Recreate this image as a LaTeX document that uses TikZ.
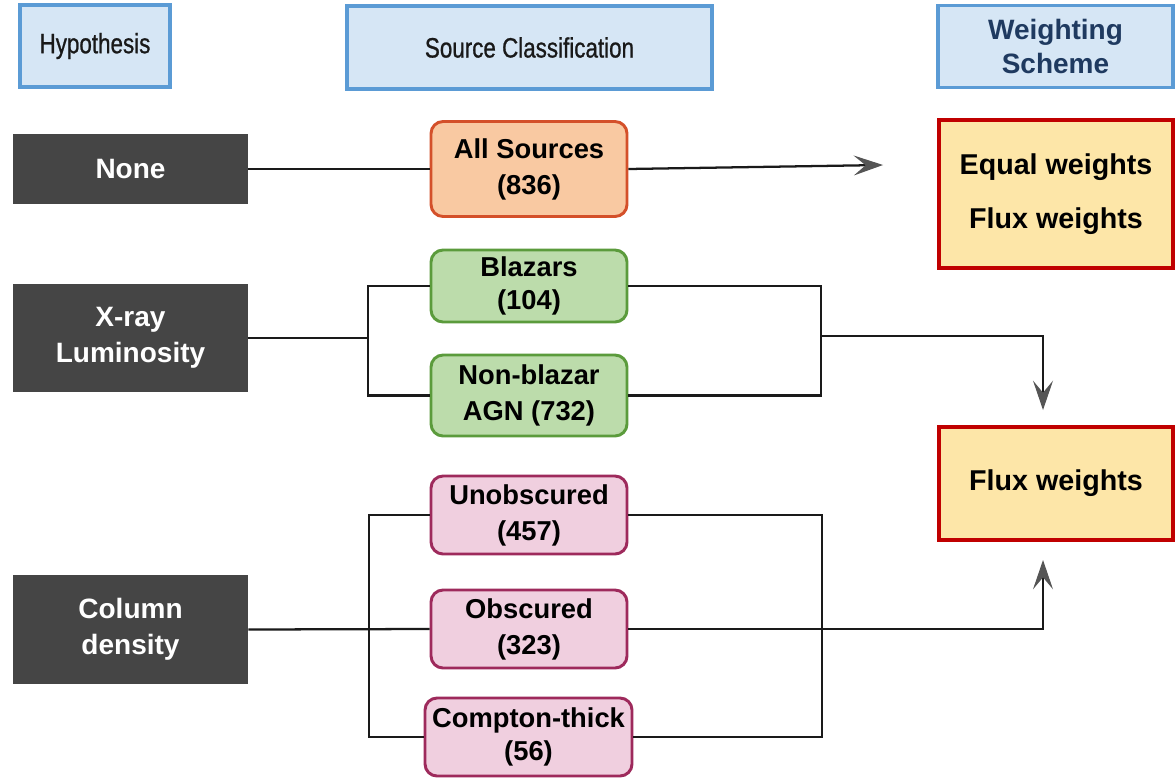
\documentclass[tikz,border=0pt]{standalone}
\usepackage{fontspec}
\setmainfont{Liberation Sans}
\newfontfamily\hdrfont[FakeStretch=0.8,FakeBold=0.8]{Liberation Sans}
\usetikzlibrary{arrows.meta}
\definecolor{hdrfill}{HTML}{D6E6F5}
\definecolor{hdrdraw}{HTML}{5B9BD5}
\definecolor{hdrtext}{HTML}{1F3A60}
\definecolor{darkbox}{HTML}{454545}
\definecolor{orfill}{HTML}{F9C9A2}
\definecolor{ordraw}{HTML}{D4502A}
\definecolor{grfill}{HTML}{BCDCAB}
\definecolor{grdraw}{HTML}{5B9B3C}
\definecolor{pkfill}{HTML}{F0CFDF}
\definecolor{pkdraw}{HTML}{9E2A5C}
\definecolor{ylfill}{HTML}{FDE6A8}
\definecolor{yldraw}{HTML}{C00000}
\definecolor{linec}{HTML}{1A1A1A}
\definecolor{tipc}{HTML}{555555}
\tikzset{
  hdr/.style={draw=hdrdraw, fill=hdrfill, line width=2.6pt, align=center, inner sep=0pt,
    font=\hdrfont\fontsize{21}{25}\selectfont, text=black!90},
  hypbox/.style={fill=darkbox, text=white, align=center, inner sep=0pt,
    font=\fontsize{21}{27}\selectfont\bfseries, minimum width=176.25pt},
  srcbox/.style={rounded corners=9pt, line width=2.2pt, align=center, inner sep=0pt,
    font=\fontsize{20.5}{27}\selectfont\bfseries, minimum width=147pt, minimum height=58.5pt},
  orbox/.style={srcbox, draw=ordraw, fill=orfill},
  grbox/.style={srcbox, draw=grdraw, fill=grfill},
  pkbox/.style={srcbox, draw=pkdraw, fill=pkfill},
  wbox/.style={draw=yldraw, fill=ylfill, line width=3.5pt, align=center, inner sep=0pt,
    font=\fontsize{21.5}{40}\selectfont\bfseries, minimum width=175.5pt},
  conn/.style={draw=linec, line width=1.7pt},
  arr/.style={conn, -{Stealth[length=22pt, width=15pt, inset=9pt, fill=tipc, color=tipc, line width=0.8pt]}}
}
\begin{document}
\begin{tikzpicture}[x=0.75pt, y=-0.75pt]
\useasboundingbox[fill=white] (0,0) rectangle (1176,778);
% headers
\node[hdr, minimum width=112.5pt, minimum height=61.5pt] (hhyp) at (95,46) {Hypothesis};
\node[hdr, minimum width=273.75pt, minimum height=62.25pt] (hsrc) at (529.5,47.5) {Source Classification};
\node[hdr, minimum width=176.25pt, minimum height=61.5pt, text=hdrtext, font=\fontsize{21}{26}\selectfont\bfseries] (hwgt) at (1055.5,46.5) {Weighting\\Scheme};
% hypothesis boxes
\node[hypbox, minimum height=52.5pt] (none) at (130.5,169) {None};
\node[hypbox, minimum height=81pt] (xray) at (130.5,338) {X-ray\\Luminosity};
\node[hypbox, minimum height=81.75pt] (col) at (130.5,629.5) {Column\\density};
% source boxes
\node[orbox, minimum height=71.25pt] (all) at (529,169) {All Sources\\(836)};
\node[grbox, minimum height=54pt, font=\fontsize{20.5}{25}\selectfont\bfseries] (bl) at (529,286) {Blazars\\(104)};
\node[grbox, minimum height=60.75pt] (nb) at (529,395.5) {Non-blazar\\AGN (732)};
\node[pkbox] (un) at (529,515) {Unobscured\\(457)};
\node[pkbox] (ob) at (529,629) {Obscured\\(323)};
\node[pkbox, minimum width=155.25pt, font=\fontsize{20.5}{25}\selectfont\bfseries] (ct) at (528.5,737) {Compton-thick\\(56)};
% weighting boxes
\node[wbox, minimum height=111pt] (eq) at (1056,194) {Equal weights\\Flux weights};
\node[wbox, minimum height=84.75pt] (fx) at (1056,483.5) {Flux weights};
% coordinates
\coordinate (tipA) at (883,165);
\coordinate (jxT) at (368,286);
\coordinate (jxB) at (368,395.5);
\coordinate (rxT) at (821,286);
\coordinate (rxB) at (821,395.5);
\coordinate (rxM) at (821,336);
\coordinate (tipB) at (1043,410);
\coordinate (jcT) at (369,515);
\coordinate (jcB) at (369,737);
\coordinate (rcT) at (822,515);
\coordinate (rcB) at (822,737);
\coordinate (tipC) at (1043,560);
% connectors
\draw[conn] (none.east) -- (all.west);
\draw[arr] (all.east) -- (tipA);
\draw[conn] (xray.east) -- (xray.east -| jxT);
\draw[conn] (bl.west) -- (jxT) -- (jxB) -- (nb.west);
\draw[conn] (bl.east) -- (rxT) -- (rxB) -- (nb.east);
\draw[arr] (rxM) -| (tipB);
\draw[conn] (col.east) -- (ob.west);
\draw[conn] (un.west) -- (jcT) -- (jcB) -- (ct.west);
\draw[conn] (un.east) -- (rcT) -- (rcB) -- (ct.east);
\draw[arr] (ob.east) -| (tipC);
\end{tikzpicture}
\end{document}
